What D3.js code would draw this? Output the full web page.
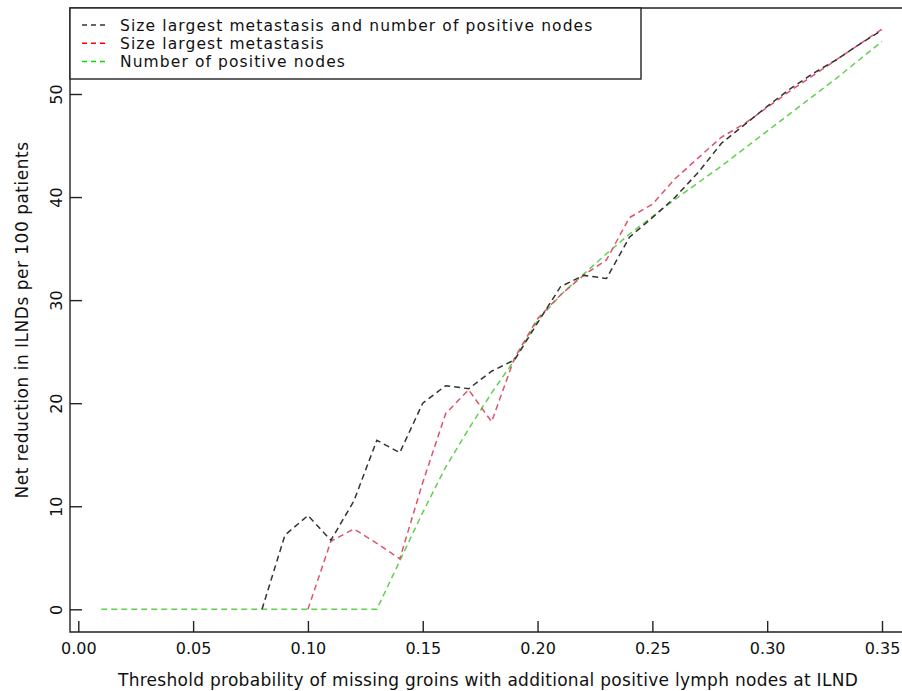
<!DOCTYPE html>
<html>
<head>
<meta charset="utf-8">
<script src="https://cdn.jsdelivr.net/npm/d3@7"></script>
<style>
  body { margin: 0; background: #fff; }
  svg { font-family: "DejaVu Sans", sans-serif; }
</style>
</head>
<body>
<div id="chart"></div>
<script>
// threshold probabilities (x)
const thresholds = [0.01, 0.02, 0.03, 0.04, 0.05, 0.06, 0.07, 0.08, 0.09, 0.10,
                    0.11, 0.12, 0.13, 0.14, 0.15, 0.16, 0.17, 0.18, 0.19, 0.20,
                    0.21, 0.22, 0.23, 0.24, 0.25, 0.26, 0.27, 0.28, 0.29, 0.30,
                    0.31, 0.32, 0.33, 0.34, 0.35];

// net reduction per 100 patients, null = not plotted
const sizeAndNodes = [null, null, null, null, null, null, null,
                      0, 7.2, 9.1, 6.7, 10.5, 16.4, 15.2, 20.0, 21.7, 21.4, 23.1, 24.2, 27.8,
                      31.3, 32.4, 32.1, 36.1, 38.0, 40.0, 42.4, 45.2, 47.0, 48.8,
                      50.5, 52.0, 53.3, 54.8, 56.2];
const sizeOnly = [null, null, null, null, null, null, null, null, null,
                  0, 6.6, 7.8, 6.4, 4.9, 12.3, 19.0, 21.3, 18.2, 24.4, 28.2,
                  30.5, 32.4, 33.9, 38.0, 39.3, 41.8, 43.8, 45.8, 47.1, 48.7,
                  50.3, 51.8, 53.3, 54.8, 56.3];
const nodesOnly = [0, 0, 0, 0, 0, 0, 0, 0, 0, 0, 0, 0, 0,
                   4.7, 9.4, 13.8, 17.5, 21.0, 24.2, 28.0, 30.5, 32.5, 34.5, 36.4,
                   38.1, 39.8, 41.4, 43.0, 44.7, 46.4, 48.1, 49.8, 51.5, 53.3, 55.1];

const xTicks = [0, 0.05, 0.10, 0.15, 0.20, 0.25, 0.30, 0.35];
const yTicks = [0, 10, 20, 30, 40, 50];

const seriesNames = ["Size largest metastasis and number of positive nodes",
                     "Size largest metastasis",
                     "Number of positive nodes"];
const lineColors = ["#333333", "#DF536B", "#61D04F"];
const legendColors = ["#333333", "#FF0000", "#00E000"];

const width = 902, height = 691;
const box = { left: 70, top: 8, bottom: 632, right: 902 };

const svg = d3.select('#chart').append('svg')
    .attr('width', width)
    .attr('height', height);

const xScale = d3.scaleLinear().domain([0, 0.35]).range([78.3, 882]);
const yScale = d3.scaleLinear().domain([0, 50]).range([609.3, 94]);

// frame (top, left, bottom)
svg.append('path')
    .attr('d', `M${box.right},${box.top}H${box.left}V${box.bottom}H${box.right}`)
    .attr('fill', 'none')
    .attr('stroke', '#222')
    .attr('stroke-width', 1.4);

// x axis, ticks pointing inward
const xAxis = svg.append('g')
    .attr('transform', `translate(0,${box.bottom})`)
    .call(d3.axisBottom(xScale).tickValues(xTicks).tickSizeInner(-11).tickSizeOuter(0)
        .tickPadding(11).tickFormat(d3.format('.2f')));
xAxis.select('.domain').remove();
xAxis.selectAll('line').attr('stroke', '#222').attr('stroke-width', 1.4);
xAxis.selectAll('text').attr('font-size', 16).attr('font-family', '"DejaVu Sans", sans-serif').attr('fill', '#111');

// y axis, rotated labels
const yAxis = svg.append('g')
    .attr('transform', `translate(${box.left},0)`)
    .call(d3.axisLeft(yScale).tickValues(yTicks).tickSizeInner(-12).tickSizeOuter(0)
        .tickFormat(d3.format('d')));
yAxis.select('.domain').remove();
yAxis.selectAll('line').attr('stroke', '#222').attr('stroke-width', 1.4);
yAxis.selectAll('text')
    .attr('x', null).attr('dy', null)
    .attr('transform', 'translate(-8,0) rotate(-90)')
    .attr('text-anchor', 'middle')
    .attr('font-size', 16).attr('font-family', '"DejaVu Sans", sans-serif').attr('fill', '#111');

// axis titles
svg.append('text')
    .attr('x', 488).attr('y', 686)
    .attr('text-anchor', 'middle')
    .attr('font-size', 17)
    .attr('letter-spacing', 0.28)
    .attr('fill', '#111')
    .text('Threshold probability of missing groins with additional positive lymph nodes at ILND');

svg.append('text')
    .attr('transform', 'translate(28,320) rotate(-90)')
    .attr('text-anchor', 'middle')
    .attr('font-size', 17)
    .attr('letter-spacing', 0.5)
    .attr('fill', '#111')
    .text('Net reduction in ILNDs per 100 patients');

// lines
const line = d3.line()
    .defined(d => d[1] !== null)
    .x(d => xScale(d[0]))
    .y(d => yScale(d[1]));

[nodesOnly, sizeOnly, sizeAndNodes].forEach(function (values, i) {
    const idx = 2 - i;
    svg.append('path')
        .datum(thresholds.map((t, j) => [t, values[j]]))
        .attr('d', line)
        .attr('fill', 'none')
        .attr('stroke', lineColors[idx])
        .attr('stroke-width', 1.5)
        .attr('stroke-dasharray', '6,4');
});

// legend
const legend = svg.append('g');
legend.append('rect')
    .attr('x', 70).attr('y', 8).attr('width', 571).attr('height', 71)
    .attr('fill', '#fff').attr('stroke', '#222').attr('stroke-width', 1.4);

seriesNames.forEach(function (name, i) {
    const y = 25 + i * 18.3;
    legend.append('line')
        .attr('x1', 82).attr('x2', 107).attr('y1', y).attr('y2', y)
        .attr('stroke', legendColors[i]).attr('stroke-width', 1.5)
        .attr('stroke-dasharray', '5,4');
    legend.append('text')
        .attr('x', 120).attr('y', y + 5.5)
        .attr('font-size', 15.5)
        .attr('letter-spacing', 1.1)
        .attr('fill', '#111')
        .text(name);
});
</script>
</body>
</html>
